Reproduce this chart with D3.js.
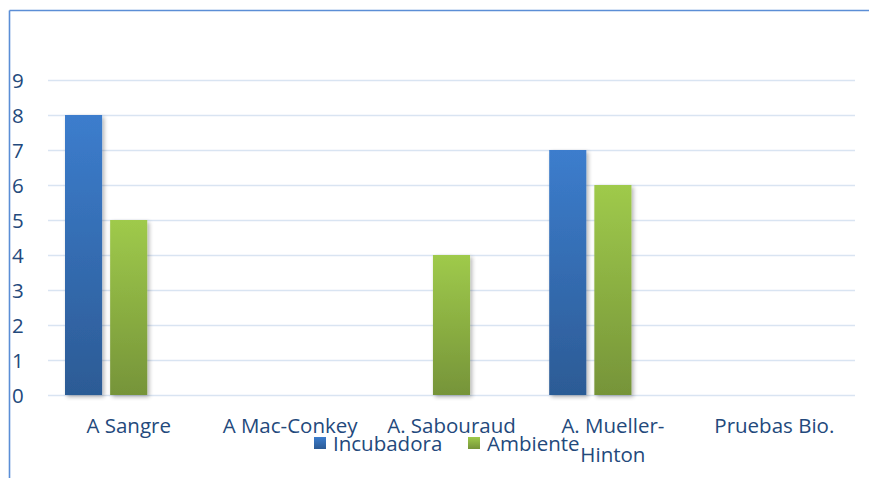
<!DOCTYPE html>
<html>
<head>
<meta charset="utf-8">
<script src="https://cdn.jsdelivr.net/npm/d3@7"></script>
<style>
  html, body { margin: 0; padding: 0; background: #fff; }
  svg { display: block; }
  text { font-family: "Open Sans", "Noto Sans", sans-serif; fill: #23497c; }
</style>
</head>
<body>
<svg id="chart" width="869" height="478"></svg>
<script>
// Category names (the Mueller-Hinton label wraps after the hyphen)
const categories = ["A Sangre", "A Mac-Conkey", "A. Sabouraud", "A. Mueller-Hinton", "Pruebas Bio."];
const categoryLines = [["A Sangre"], ["A Mac-Conkey"], ["A. Sabouraud"], ["A. Mueller-", "Hinton"], ["Pruebas Bio."]];
// Series values (null = no bar); a third, empty slot keeps the cluster spacing
const seriesNames = ["Incubadora", "Ambiente", ""];
const incubadora = [8, null, null, 7, null];
const ambiente = [5, null, 4, 6, null];
const emptySlot = [null, null, null, null, null];
const yTicks = [0, 1, 2, 3, 4, 5, 6, 7, 8, 9];

const svg = d3.select("#chart");
const W = 869, H = 478;
const plot = { left: 48, right: 855, top: 80, bottom: 395 };
const FONT = "20.5px";

const x = d3.scaleBand().domain(categories).range([plot.left, plot.right]).paddingInner(0).paddingOuter(0);
const xs = d3.scaleBand().domain([0, 1, 2]).range([17, x.bandwidth() - 17]).paddingInner(0.178).paddingOuter(0);
const y = d3.scaleLinear().domain([0, 9]).range([plot.bottom, plot.top]);

// Gradients and bar shadow
const defs = svg.append("defs");
function grad(id, top, bottom) {
  const g = defs.append("linearGradient").attr("id", id).attr("x1", 0).attr("y1", 0).attr("x2", 0).attr("y2", 1);
  g.append("stop").attr("offset", "0%").attr("stop-color", top);
  g.append("stop").attr("offset", "100%").attr("stop-color", bottom);
}
grad("gBlue", "#3c7dcd", "#2c5b95");
grad("gGreen", "#9fca4b", "#769439");
const f = defs.append("filter").attr("id", "shadow").attr("x", "-30%").attr("y", "-10%").attr("width", "160%").attr("height", "120%");
f.append("feGaussianBlur").attr("in", "SourceAlpha").attr("stdDeviation", 2.2).attr("result", "b");
f.append("feOffset").attr("in", "b").attr("dx", 2).attr("dy", 1.5).attr("result", "o");
f.append("feComponentTransfer").attr("in", "o").attr("result", "t")
  .append("feFuncA").attr("type", "linear").attr("slope", 0.3);
const m = f.append("feMerge");
m.append("feMergeNode").attr("in", "t");
m.append("feMergeNode").attr("in", "SourceGraphic");

// Chart frame (left and top edges)
svg.append("line").attr("x1", 9.5).attr("x2", 9.5).attr("y1", 10.5).attr("y2", H)
  .attr("stroke", "#5b8ed6").attr("stroke-width", 1.6);
svg.append("line").attr("x1", 9.5).attr("x2", W).attr("y1", 10.5).attr("y2", 10.5)
  .attr("stroke", "#5b8ed6").attr("stroke-width", 1.6);

// Gridlines and value labels
const yAxis = d3.axisLeft(y).tickValues(yTicks).tickSize(-(plot.right - plot.left)).tickFormat(d3.format("d"));
const ga = svg.append("g").attr("transform", `translate(${plot.left},0)`).call(yAxis);
ga.select(".domain").remove();
ga.selectAll(".tick line").attr("stroke", "#d9e4f2").attr("stroke-width", 1.6);
ga.selectAll(".tick text")
  .attr("x", 12 - plot.left).attr("text-anchor", "start").attr("dy", "0.36em")
  .style("font-size", FONT).attr("fill", "#23497c");

// Bars
const series = [
  { name: seriesNames[0], values: incubadora, fill: "url(#gBlue)" },
  { name: seriesNames[1], values: ambiente, fill: "url(#gGreen)" },
  { name: seriesNames[2], values: emptySlot, fill: "none" }
];
series.forEach((s, si) => {
  svg.append("g").selectAll("rect")
    .data(categories.map((c, i) => ({ c, v: s.values[i] })).filter(d => d.v != null))
    .join("rect")
    .attr("x", d => x(d.c) + xs(si))
    .attr("width", xs.bandwidth())
    .attr("y", d => y(d.v))
    .attr("height", d => y(0) - y(d.v))
    .attr("fill", s.fill)
    .attr("filter", "url(#shadow)");
});

// Category labels
const cl = svg.append("g");
categories.forEach((c, i) => {
  const cx = x(c) + x.bandwidth() / 2;
  const t = cl.append("text").attr("x", cx).attr("y", 433)
    .attr("text-anchor", "middle").style("font-size", FONT);
  categoryLines[i].forEach((ln, k) => {
    t.append("tspan").attr("x", cx).attr("dy", k === 0 ? 0 : 29).text(ln);
  });
});

// Legend
const legend = [
  { name: seriesNames[0], fill: "url(#gBlue)", x: 314 },
  { name: seriesNames[1], fill: "url(#gGreen)", x: 468 }
];
const lg = svg.append("g");
legend.forEach(d => {
  lg.append("rect").attr("x", d.x).attr("y", 437).attr("width", 12).attr("height", 12).attr("fill", d.fill);
  lg.append("text").attr("x", d.x + 19).attr("y", 451).style("font-size", FONT).text(d.name);
});
</script>
</body>
</html>
